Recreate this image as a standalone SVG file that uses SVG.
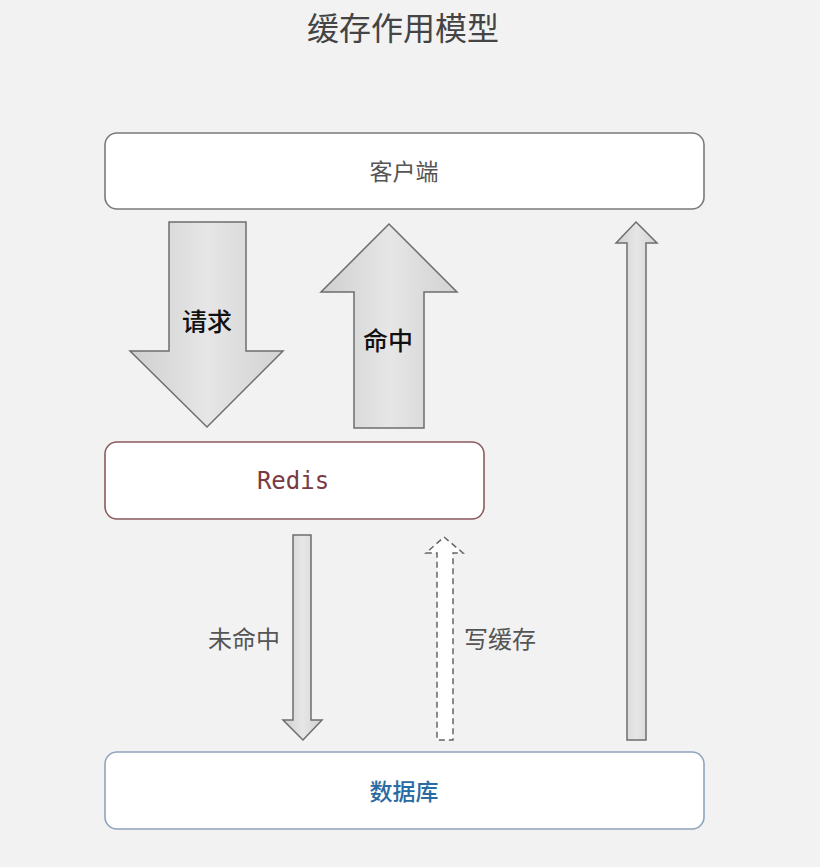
<svg xmlns="http://www.w3.org/2000/svg" width="820" height="867" viewBox="0 0 820 867">
<style>
.box{fill:#ffffff;stroke-width:1.6}
.cjk{font-family:"Noto Sans CJK SC","Noto Sans",sans-serif}
.arrow{fill:url(#g);stroke:#6e6e6e;stroke-width:1.5;stroke-linejoin:miter}
</style>
<defs>
<linearGradient id="g" x1="0" y1="0" x2="1" y2="0">
<stop offset="0" stop-color="#cfcfcf"/>
<stop offset="0.5" stop-color="#e6e6e6"/>
<stop offset="1" stop-color="#d2d2d2"/>
</linearGradient>
</defs>
<rect width="820" height="867" fill="#f2f2f2"/>
<text x="403" y="40" text-anchor="middle" class="cjk" font-size="32" fill="#444">缓存作用模型</text>
<g id="client">
<rect class="box" x="105" y="133" width="599" height="76" rx="12" stroke="#7a7a7a"/>
<text x="404" y="180" text-anchor="middle" class="cjk" font-size="23" fill="#555">客户端</text>
</g>
<g id="redis">
<rect class="box" x="105" y="442" width="379" height="77" rx="12" stroke="#8a5a5c"/>
<text x="293" y="489" text-anchor="middle" font-family="'DejaVu Sans Mono','Liberation Mono',monospace" font-size="24" fill="#7a3a44">Redis</text>
</g>
<g id="database">
<rect class="box" x="105" y="752" width="599" height="77" rx="12" stroke="#8fa4bc"/>
<text x="404" y="800" text-anchor="middle" class="cjk" font-size="23" font-weight="500" fill="#2a6aa2">数据库</text>
</g>
<g id="connectors">
<g id="request">
<polygon class="arrow" points="169,222 246,222 246,351 283,351 207,427 130,351 169,351"/>
<text x="207" y="331" text-anchor="middle" class="cjk" font-size="25" font-weight="500" fill="#111">请求</text>
</g>
<g id="hit">
<polygon class="arrow" points="389,224 457,292 424,292 424,428 354,428 354,292 321,292"/>
<text x="388" y="350" text-anchor="middle" class="cjk" font-size="25" font-weight="500" fill="#111">命中</text>
</g>
<g id="miss">
<polygon class="arrow" points="293,535 311,535 311,720 322,720 303,740 283,720 293,720"/>
<text x="244" y="648" text-anchor="middle" class="cjk" font-size="24" fill="#555">未命中</text>
</g>
<g id="writecache">
<polygon points="444,537 463,553 453,553 453,740 437,740 437,553 426,553" fill="#ffffff" stroke="#666" stroke-width="1.5" stroke-dasharray="6,4"/>
<text x="500" y="648" text-anchor="middle" class="cjk" font-size="24" fill="#555">写缓存</text>
</g>
<g id="return">
<polygon class="arrow" points="636,222 657,243 646,243 646,740 627,740 627,243 616,243"/>
</g>
</g>
</svg>
